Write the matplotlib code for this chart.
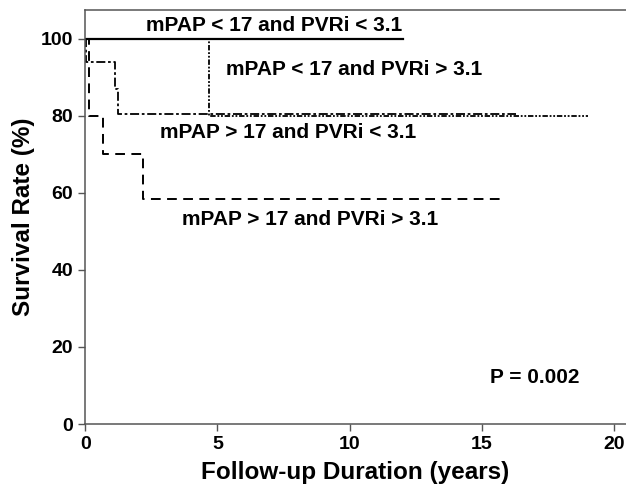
import matplotlib.pyplot as plt

plt.rcParams['font.family'] = ['Liberation Sans', 'DejaVu Sans']
plt.rcParams['font.weight'] = 'bold'

# Kaplan-Meier step data (years, survival %)
t_low_low = [0, 12.0]
s_low_low = [100, 100]

t_low_high = [0, 4.7, 19.0]
s_low_high = [100, 80, 80]

t_high_low = [0, 0.04, 1.13, 1.26, 16.3]
s_high_low = [100, 94, 87, 80.5, 80.5]

t_high_high = [0, 0.16, 0.68, 2.19, 15.7]
s_high_high = [100, 80, 70, 58.3, 58.3]

labels = ["mPAP < 17 and PVRi < 3.1", "mPAP < 17 and PVRi > 3.1",
          "mPAP > 17 and PVRi < 3.1", "mPAP > 17 and PVRi > 3.1"]
p_text = "P = 0.002"

x_ticks = [0, 5, 10, 15, 20]
y_ticks = [0, 20, 40, 60, 80, 100]

fig = plt.figure(figsize=(6.26, 4.94), dpi=100)
ax = fig.add_axes([0.136, 0.1417, 0.864, 0.838])

ax.plot(t_low_low, s_low_low, drawstyle='steps-post', color='black', lw=1.6)
ax.plot(t_low_high, s_low_high, drawstyle='steps-post', color='black', lw=1.3,
        linestyle=(0, (3, 1, 1, 1, 1, 1)))
ax.plot(t_high_low, s_high_low, drawstyle='steps-post', color='black', lw=1.3,
        linestyle=(0, (5, 1.5, 1.5, 1.5)))
ax.plot(t_high_high, s_high_high, drawstyle='steps-post', color='black', lw=1.4,
        linestyle=(0, (5, 3.3)))

# Curve labels
fs = 15
ax.text(2.3, 103.6, labels[0], ha='left', va='center', fontsize=fs, fontweight='bold')
ax.text(5.33, 92.0, labels[1], ha='left', va='center', fontsize=fs, fontweight='bold')
ax.text(2.84, 75.6, labels[2], ha='left', va='center', fontsize=fs, fontweight='bold')
ax.text(3.67, 53.0, labels[3], ha='left', va='center', fontsize=fs, fontweight='bold')
ax.text(15.3, 12.0, p_text, ha='left', va='center', fontsize=fs, fontweight='bold')

ax.set_xlim(0, 20.45)
ax.set_ylim(0, 107.5)
ax.set_xticks(x_ticks)
ax.set_yticks(y_ticks)
ax.tick_params(labelsize=14, length=5, width=1, color='#555555')
for lab in ax.get_xticklabels() + ax.get_yticklabels():
    lab.set_fontweight('bold')

for side in ['left', 'bottom', 'top']:
    ax.spines[side].set_color('#555555')
    ax.spines[side].set_linewidth(1.1)
ax.spines['right'].set_visible(False)

ax.set_xlabel("Follow-up Duration (years)", fontsize=17.5, fontweight='bold', labelpad=6)
ax.set_ylabel("Survival Rate (%)", fontsize=17.5, fontweight='bold', labelpad=4)

fig.savefig("out.png", dpi=100)
